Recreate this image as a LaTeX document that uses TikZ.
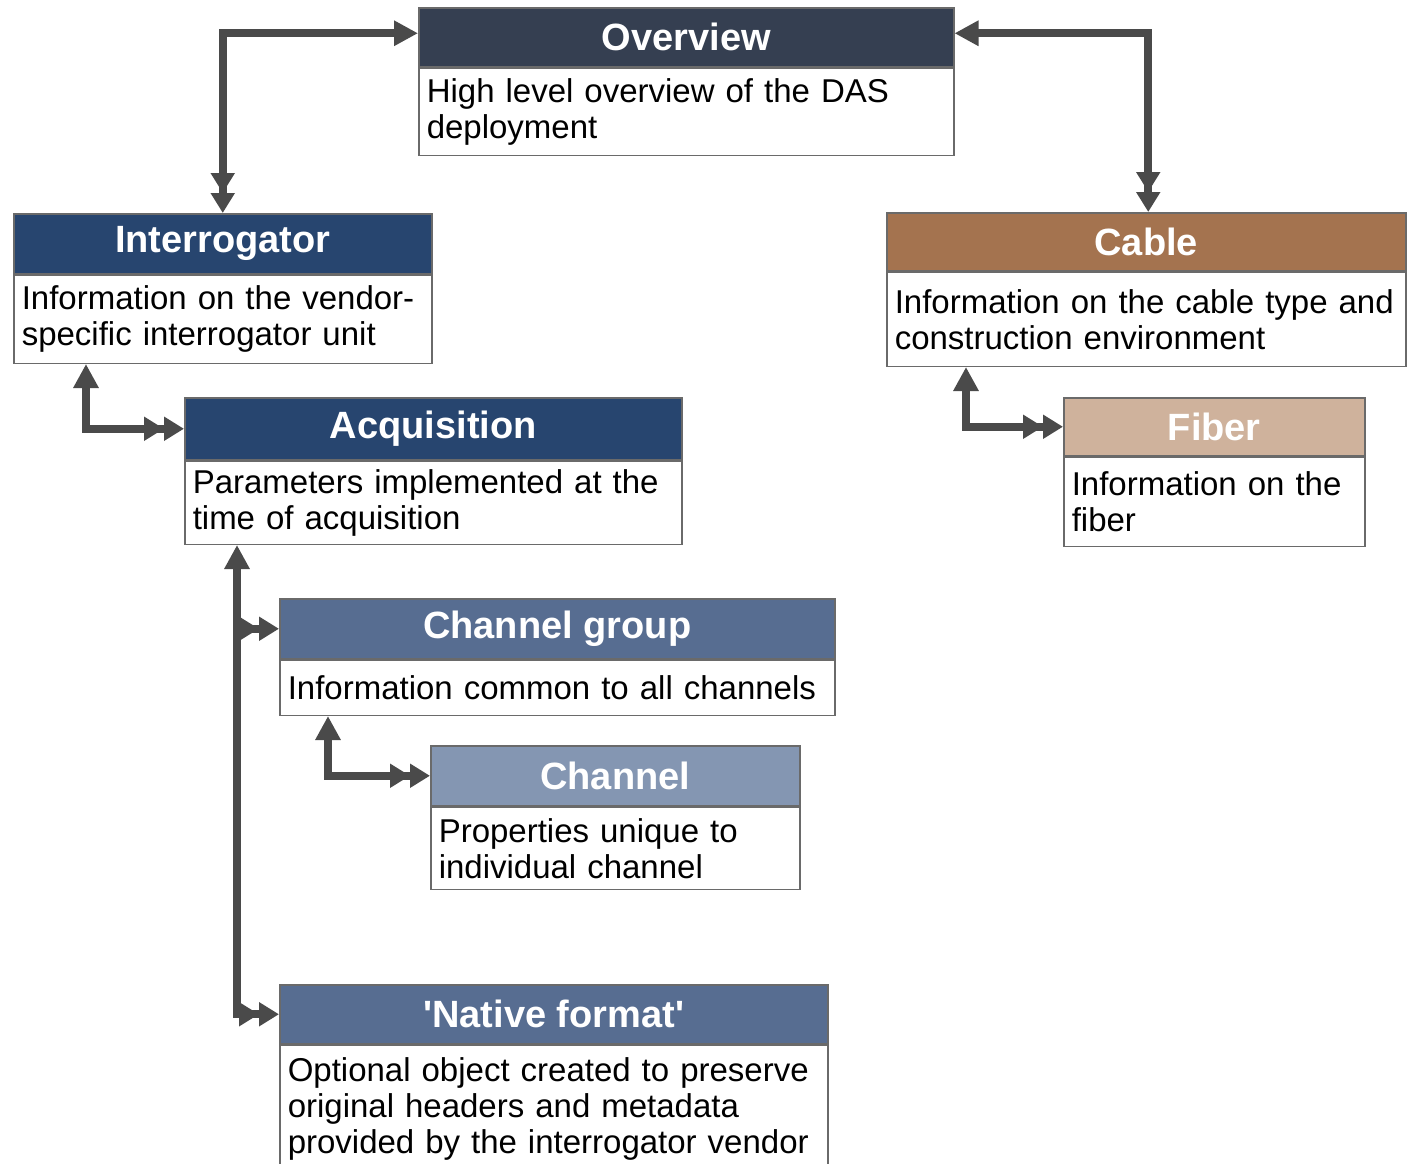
\documentclass[tikz,border=0pt]{standalone}
\usepackage{fontspec}
\setmainfont{Liberation Sans}
\usetikzlibrary{arrows.meta,positioning}
\definecolor{frame}{HTML}{6A6A6A}
\definecolor{linkgrey}{HTML}{4A4A4A}
\definecolor{ovcol}{HTML}{353F51}
\definecolor{navycol}{HTML}{27456F}
\definecolor{cabcol}{HTML}{A4734F}
\definecolor{fibcol}{HTML}{CFB29C}
\definecolor{midcol}{HTML}{576D91}
\definecolor{chcol}{HTML}{8496B2}
\begin{document}
\begin{tikzpicture}[x=0.5pt, y=-0.5pt,
    every node/.style={line width=0.75pt},
    head/.style={draw=frame, anchor=north west, text=white, inner sep=0pt,
      font=\bfseries\fontsize{19}{22}\selectfont},
    body/.style={draw=frame, fill=white, anchor=north, align=left,
      inner xsep=4pt, inner ysep=0pt, font=\fontsize{16.5}{18}\selectfont,
      execute at begin node={\hyphenpenalty=10000\exhyphenpenalty=10000}},
    link/.style={draw=linkgrey, line width=4pt,
      {Triangle[length=12pt,width=12pt]}-{Triangle[length=10pt,width=11.5pt]Triangle[length=10pt,width=11.5pt]}},
    branch/.style={draw=linkgrey, line width=4pt,
      -{Triangle[length=10pt,width=11.5pt]Triangle[length=10pt,width=11.5pt]}}]
  \useasboundingbox (0,0) rectangle (1419,1163);

  % Overview
  \node (ovh) [head, fill=ovcol, minimum width=267.5pt, minimum height=29.5pt] at (418,7) {Overview};
  \node (ovb) [body, text width=259.5pt, minimum height=43.5pt] at (ovh.south)
    {High level overview of the DAS\\deployment};

  % Interrogator
  \node (inth) [head, fill=navycol, minimum width=209pt, minimum height=30pt] at (13,213) {Interrogator};
  \node (intb) [body, text width=201pt, minimum height=44pt] at (inth.south)
    {Information on the vendor-\\specific interrogator unit};

  % Cable
  \node (cabh) [head, fill=cabcol, minimum width=259.5pt, minimum height=29pt] at (886,212) {Cable};
  \node (cabb) [body, text width=251.5pt, minimum height=47pt] at (cabh.south)
    {Information on the cable type and\\construction environment};

  % Acquisition
  \node (acqh) [head, fill=navycol, minimum width=248.5pt, minimum height=31pt] at (184,397) {Acquisition};
  \node (acqb) [body, text width=240.5pt, minimum height=41.5pt] at (acqh.south)
    {Parameters implemented at the\\time of acquisition};

  % Fiber
  \node (fibh) [head, fill=fibcol, minimum width=150.5pt, minimum height=29pt] at (1063,397) {Fiber};
  \node (fibb) [body, text width=142.5pt, minimum height=44.5pt] at (fibh.south)
    {Information on the\\fiber};

  % Channel group
  \node (cgh) [head, fill=midcol, minimum width=277.5pt, minimum height=30pt] at (279,598) {Channel group};
  \node (cgb) [body, text width=269.5pt, minimum height=27.5pt] at (cgh.south)
    {Information common to all channels};

  % Channel
  \node (chh) [head, fill=chcol, minimum width=184.5pt, minimum height=30pt] at (430,745) {Channel};
  \node (chb) [body, text width=176.5pt, minimum height=41pt] at (chh.south)
    {Properties unique to\\individual channel};

  % Native format
  \node (nath) [head, fill=midcol, minimum width=274pt, minimum height=29.5pt] at (279,984)
    {\textquotesingle Native format\textquotesingle};
  \node (natb) [body, text width=266pt, minimum height=64pt] at (nath.south)
    {Optional object created to preserve\\original headers and metadata\\provided by the interrogator vendor};

  % connectors
  \coordinate (trunk) at ([xshift=26.5pt]acqb.south west);
  \draw[link] ([yshift=2pt]ovh.west) -| (inth.north);
  \draw[link] ([yshift=2pt]ovh.east) -| ([xshift=1pt]cabh.north);
  \draw[link] ([xshift=36.5pt]intb.south west) |- (acqh.west);
  \draw[link] ([xshift=40pt]cabb.south west) |- (fibh.west);
  \draw[link] (trunk) |- (nath.west);
  \draw[branch] (trunk |- cgh.west) -- (cgh.west);
  \draw[link] ([xshift=24.5pt]cgb.south west) |- (chh.west);
\end{tikzpicture}
\end{document}
